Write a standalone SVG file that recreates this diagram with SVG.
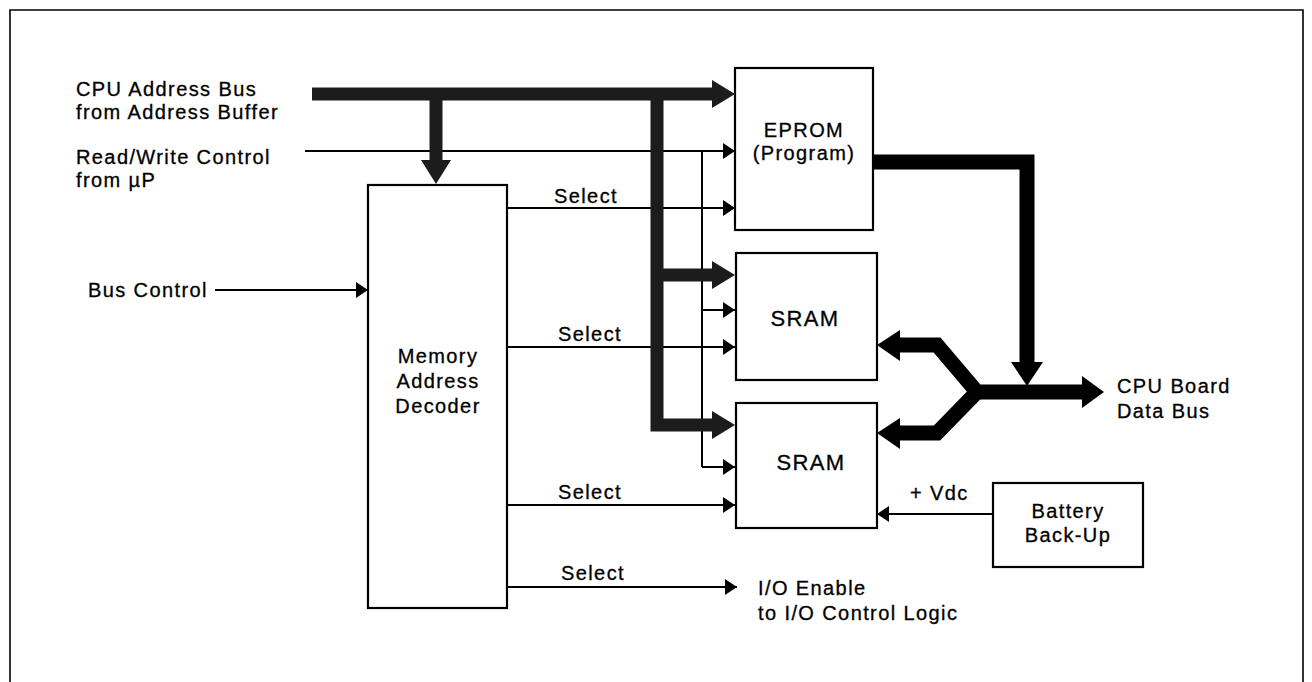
<svg xmlns="http://www.w3.org/2000/svg" width="1312" height="682" viewBox="0 0 1312 682">
<defs>
<style>
text{font-family:"Liberation Sans",Arial,Helvetica,sans-serif;font-size:20px;letter-spacing:1.4px;fill:#000;stroke:#000;stroke-width:0.3}
.c{text-anchor:middle}
.big{font-size:22px}
.box{fill:#fff;stroke:#000;stroke-width:2.2}
.thin{fill:none;stroke:#000;stroke-width:2}
.abus{fill:none;stroke:#1c1c1c;stroke-width:13;stroke-linejoin:miter}
.dbus{fill:none;stroke:#000;stroke-width:15;stroke-linejoin:miter}
.ah{fill:#1c1c1c}
.dh{fill:#000}
</style>
<marker id="arr" markerUnits="userSpaceOnUse" markerWidth="13" markerHeight="16" refX="12" refY="8" orient="auto">
<path d="M0,0 L12,8 L0,16 z" fill="#000"/>
</marker>
</defs>
<rect width="1312" height="682" fill="#fff"/>
<path d="M10,690 V10 H1303 V690" fill="none" stroke="#000" stroke-width="1.6"/>

<g id="connectors">
<path class="thin" d="M305,151 H735" marker-end="url(#arr)"/>
<path class="thin" d="M702,151 V467"/>
<path class="thin" d="M702,310 H735" marker-end="url(#arr)"/>
<path class="thin" d="M702,467 H735" marker-end="url(#arr)"/>
<path class="thin" d="M215,290 H368" marker-end="url(#arr)"/>
<path class="thin" d="M507,208 H735" marker-end="url(#arr)"/>
<path class="thin" d="M507,347 H735" marker-end="url(#arr)"/>
<path class="thin" d="M507,505 H735" marker-end="url(#arr)"/>
<path class="thin" d="M507,587 H737" marker-end="url(#arr)"/>
<path class="thin" d="M993,514 H877" marker-end="url(#arr)"/>
<path class="abus" d="M312,94 H714"/>
<polygon class="ah" points="712,80 735,94 712,108"/>
<path class="abus" d="M436,94 V162"/>
<polygon class="ah" points="421,160 451,160 436,184"/>
<path class="abus" d="M657,94 V425 H714"/>
<path class="abus" d="M657,275 H714"/>
<polygon class="ah" points="712,261 735,275 712,289"/>
<polygon class="ah" points="712,411 735,425 712,439"/>
<path class="dbus" d="M873,162 H1027 V364"/>
<polygon class="dh" points="1011,362 1043,362 1027,386"/>
<path class="dbus" d="M898,345 H937 L977,392 H1084"/>
<path class="dbus" d="M898,433 H937 L977,392"/>
<polygon class="dh" points="1082,376 1104,392 1082,408"/>
<polygon class="dh" points="900,330 877,345 900,361"/>
<polygon class="dh" points="900,418 877,433 900,449"/>
</g>

<g id="labels">
<text x="76" y="96">CPU Address Bus</text>
<text x="76" y="119">from Address Buffer</text>
<text x="76" y="164">Read/Write Control</text>
<text x="76" y="187">from µP</text>
<text x="88" y="297">Bus Control</text>
<text x="554" y="203">Select</text>
<text x="558" y="341">Select</text>
<text x="558" y="499">Select</text>
<text x="561" y="580">Select</text>
<text x="910" y="500">+ Vdc</text>
<text x="1117" y="393">CPU Board</text>
<text x="1117" y="418">Data Bus</text>
<text x="758" y="595">I/O Enable</text>
<text x="758" y="620">to I/O Control Logic</text>
</g>

<g id="decoder">
<rect class="box" x="368" y="185" width="139" height="423"/>
<text class="c" x="438" y="363">Memory</text>
<text class="c" x="438" y="388">Address</text>
<text class="c" x="438" y="413">Decoder</text>
</g>
<g id="eprom">
<rect class="box" x="735" y="68" width="138" height="162"/>
<text class="c" x="804" y="137">EPROM</text>
<text class="c" x="804" y="160">(Program)</text>
</g>
<g id="sram1">
<rect class="box" x="736" y="253" width="141" height="127"/>
<text class="c big" x="805" y="326">SRAM</text>
</g>
<g id="sram2">
<rect class="box" x="736" y="403" width="141" height="125"/>
<text class="c big" x="811" y="470">SRAM</text>
</g>
<g id="battery">
<rect class="box" x="993" y="483" width="150" height="84"/>
<text class="c" x="1068" y="518">Battery</text>
<text class="c" x="1068" y="542">Back-Up</text>
</g>
</svg>
